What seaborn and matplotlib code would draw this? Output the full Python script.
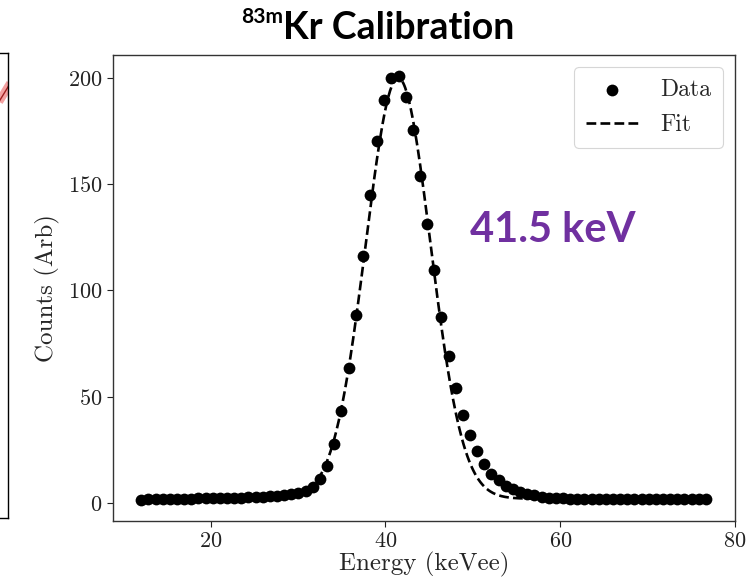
import numpy as np
import pandas as pd
import matplotlib
matplotlib.use("Agg")
import matplotlib.pyplot as plt
import seaborn as sns

# ---------------- data ----------------
energy = np.linspace(12.05, 76.67, 80)   # bin centres (keVee), regular grid
counts = [
    # low-energy tail
    1.6, 1.7, 1.8, 1.8, 1.9, 1.9, 2.0, 2.0, 2.1, 2.1, 2.2, 2.2,
    2.3, 2.4, 2.5, 2.6, 2.7, 2.9, 3.1, 3.3, 3.6, 4.0, 4.6, 5.6,
    # peak
    7.4, 11.4, 17.3, 27.9, 43.1, 63.5, 88.4, 116.4, 145.0, 170.4, 189.8,
    200.0, 200.8, 191.0, 175.3, 154.0, 131.2, 109.6, 87.3, 69.1, 54.3,
    41.3, 31.8, 24.3, 18.5, 13.8, 10.6,
    # high-energy tail
    8.2, 6.4, 5.2, 4.2, 3.5, 2.9, 2.5, 2.2, 2.1,
    2.0, 2.0, 2.0, 2.0, 2.0, 2.0, 2.0, 2.0, 2.0, 2.0,
    2.0, 2.0, 2.0, 2.0, 2.0, 2.0, 2.0, 2.0, 2.0, 2.0,
]

# Gaussian fit parameters
fit_amp = 198.0
fit_mean = 41.45
fit_sigma = 3.7
fit_base = 2.0

x_ticks = [20, 40, 60, 80]
y_ticks = [0, 50, 100, 150, 200]

title_sup = "83m"
title_main = "Kr Calibration"
peak_label = "41.5 keV"

# fragment of neighbouring panel (axes-fraction coordinates)
left_red_x = [0.80, 1.05]
left_red_y = [0.895, 0.935]

df = pd.DataFrame({"Energy": energy, "Counts": counts})
x_fit = np.linspace(energy.min(), energy.max(), 600)
y_fit = fit_base + fit_amp * np.exp(-0.5 * ((x_fit - fit_mean) / fit_sigma) ** 2)
df_fit = pd.DataFrame({"Energy": x_fit, "Counts": y_fit})

# ---------------- style ----------------
sns.set_style("ticks")
plt.rcParams["font.family"] = ["cmr10"]
plt.rcParams["mathtext.fontset"] = "cm"
plt.rcParams["axes.formatter.use_mathtext"] = True

W, H = 748, 582
fig = plt.figure(figsize=(W / 100, H / 100), dpi=100)

ax = fig.add_axes([113 / W, 1 - 520.7 / H, (735 - 113) / W, (520.7 - 55) / H])

sns.scatterplot(data=df, x="Energy", y="Counts", ax=ax, color="black",
                s=72, linewidth=0, label="Data", zorder=3)
sns.lineplot(data=df_fit, x="Energy", y="Counts", ax=ax, color="black",
             linewidth=1.9, linestyle="--", label="Fit", zorder=4)

ax.set_xticks(x_ticks)
ax.set_yticks(y_ticks)
ax.set_xlabel("Energy (keVee)", fontsize=18, labelpad=1)
ax.set_ylabel("Counts (Arb)", fontsize=18, labelpad=6)
ax.tick_params(labelsize=16, length=4, width=0.8, colors="#222222")
for sp in ax.spines.values():
    sp.set_color("#333333")
    sp.set_linewidth(1.0)
    sp.set_visible(True)

leg = ax.legend(loc="upper right", fontsize=17, frameon=True, fancybox=True,
                handlelength=2.2, handletextpad=0.95, borderpad=0.5,
                labelspacing=0.55)
leg.get_frame().set_edgecolor("#cccccc")
leg.get_frame().set_linewidth(0.8)

# title pieces
fig.text(283 / W, 1 - 39 / H, title_main, family="Lato", weight="bold",
         fontsize=27, ha="left", va="baseline", color="black")
fig.text(283 / W, 1 - 23 / H, title_sup, family="Lato", weight="bold",
         fontsize=15, ha="right", va="baseline", color="black")

# peak annotation
fig.text(470 / W, 1 - 230 / H, peak_label, family="Lato", weight="bold",
         fontsize=30, ha="left", va="center", color="#7030A0")

# fragment of neighbouring panel at the left edge
lax = fig.add_axes([-0.05, 1 - 518 / H, 0.05 + 8 / W, (518 - 53) / H])
lax.set_xlim(0, 1)
lax.set_ylim(0, 1)
lax.set_xticks([])
lax.set_yticks([])
for sp in lax.spines.values():
    sp.set_color("black")
    sp.set_linewidth(1.0)
lax.plot(left_red_x, left_red_y, color="#f08a8a", lw=6, alpha=0.8,
         solid_capstyle="butt")
lax.plot(left_red_x, left_red_y, color="#a02020", lw=1)

fig.savefig("out.png", dpi=100)
